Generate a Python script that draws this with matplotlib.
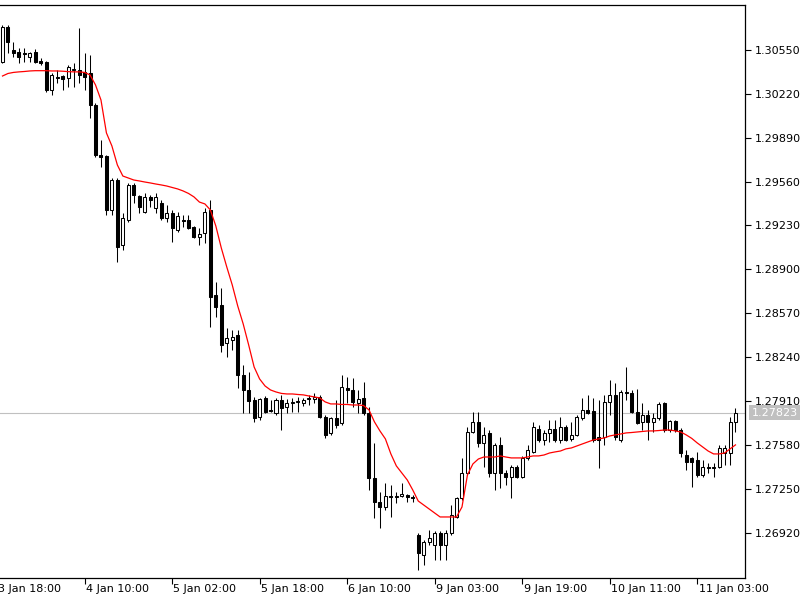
import matplotlib
matplotlib.use("Agg")
import matplotlib.pyplot as plt
import matplotlib.transforms as mtransforms
import numpy as np

opens = [1.30460, 1.30723, 1.30550, 1.30535, 1.30527, 1.30497, 1.30535, 1.30467, 1.30460, 1.30249,
         1.30347, 1.30354, 1.30339, 1.30400, 1.30400, 1.30385, 1.30377, 1.30136, 1.29760, 1.29753,
         1.29347, 1.29572, 1.29084, 1.29272, 1.29535, 1.29452, 1.29332, 1.29445, 1.29362, 1.29399,
         1.29287, 1.29324, 1.29196, 1.29272, 1.29272, 1.29219, 1.29144, 1.29174, 1.29347, 1.28708,
         1.28632, 1.28347, 1.28369, 1.28407, 1.28106, 1.27993, 1.27918, 1.27790, 1.27933, 1.27843,
         1.27820, 1.27918, 1.27865, 1.27895, 1.27903, 1.27895, 1.27926, 1.27926, 1.27941, 1.27790,
         1.27670, 1.27783, 1.27745, 1.28008, 1.27993, 1.27895, 1.27933, 1.27820, 1.27331, 1.27151,
         1.27113, 1.27196, 1.27189, 1.27196, 1.27204, 1.27189, 1.26903, 1.26752, 1.26850, 1.26828,
         1.26918, 1.26828, 1.26918, 1.27038, 1.27181, 1.27369, 1.27677, 1.27753, 1.27595, 1.27670,
         1.27369, 1.27580, 1.27369, 1.27339, 1.27414, 1.27339, 1.27482, 1.27527, 1.27700, 1.27617,
         1.27670, 1.27700, 1.27617, 1.27715, 1.27625, 1.27655, 1.27783, 1.27843, 1.27835, 1.27640,
         1.27640, 1.27903, 1.27956, 1.27617, 1.27978, 1.27971, 1.27828, 1.27753, 1.27805, 1.27753,
         1.27783, 1.27895, 1.27692, 1.27760, 1.27692, 1.27504, 1.27482, 1.27467, 1.27354, 1.27414,
         1.27407, 1.27414, 1.27519, 1.27519, 1.27753]

highs = [1.30738, 1.30738, 1.30610, 1.30565, 1.30565, 1.30535, 1.30558, 1.30490, 1.30467, 1.30377,
         1.30400, 1.30362, 1.30437, 1.30452, 1.30715, 1.30527, 1.30512, 1.30151, 1.29873, 1.29760,
         1.29587, 1.29587, 1.29324, 1.29550, 1.29550, 1.29460, 1.29475, 1.29460, 1.29475, 1.29422,
         1.29384, 1.29347, 1.29332, 1.29309, 1.29309, 1.29226, 1.29211, 1.29362, 1.29422, 1.28805,
         1.28760, 1.28459, 1.28444, 1.28444, 1.28181, 1.28129, 1.27941, 1.27933, 1.27948, 1.27918,
         1.27933, 1.27956, 1.27926, 1.27933, 1.27941, 1.27933, 1.27956, 1.27971, 1.27956, 1.27805,
         1.27790, 1.27918, 1.28106, 1.28091, 1.28083, 1.27993, 1.28053, 1.27865, 1.27595, 1.27226,
         1.27294, 1.27279, 1.27226, 1.27294, 1.27211, 1.27204, 1.26918, 1.26865, 1.26940, 1.26933,
         1.26933, 1.26940, 1.27128, 1.27189, 1.27482, 1.27715, 1.27828, 1.27828, 1.27715, 1.27692,
         1.27595, 1.27640, 1.27392, 1.27429, 1.27429, 1.27497, 1.27580, 1.27753, 1.27730, 1.27692,
         1.27768, 1.27768, 1.27790, 1.27730, 1.27753, 1.27805, 1.27933, 1.27956, 1.27933, 1.27918,
         1.27956, 1.28068, 1.28046, 1.27993, 1.28166, 1.27993, 1.28001, 1.27895, 1.27843, 1.27820,
         1.27903, 1.27903, 1.27768, 1.27768, 1.27707, 1.27542, 1.27489, 1.27527, 1.27467, 1.27444,
         1.27444, 1.27580, 1.27580, 1.27790, 1.27858]

lows = [1.30452, 1.30527, 1.30497, 1.30452, 1.30460, 1.30460, 1.30452, 1.30437, 1.30234, 1.30212,
        1.30302, 1.30249, 1.30272, 1.30272, 1.30302, 1.30249, 1.30039, 1.29745, 1.29670, 1.29309,
        1.29309, 1.28956, 1.29046, 1.29257, 1.29399, 1.29324, 1.29324, 1.29369, 1.29324, 1.29272,
        1.29257, 1.29106, 1.29181, 1.29219, 1.29204, 1.29136, 1.29084, 1.29099, 1.28467, 1.28542,
        1.28279, 1.28241, 1.28294, 1.28008, 1.27820, 1.27820, 1.27753, 1.27768, 1.27820, 1.27828,
        1.27805, 1.27692, 1.27820, 1.27828, 1.27828, 1.27873, 1.27880, 1.27895, 1.27783, 1.27632,
        1.27655, 1.27707, 1.27730, 1.27895, 1.27865, 1.27820, 1.27805, 1.27241, 1.27031, 1.26955,
        1.27091, 1.27038, 1.27143, 1.27189, 1.27151, 1.27151, 1.26640, 1.26677, 1.26828, 1.26715,
        1.26715, 1.26715, 1.26903, 1.27031, 1.27166, 1.27354, 1.27670, 1.27565, 1.27414, 1.27339,
        1.27241, 1.27256, 1.27279, 1.27181, 1.27331, 1.27331, 1.27467, 1.27519, 1.27602, 1.27580,
        1.27602, 1.27602, 1.27595, 1.27610, 1.27610, 1.27647, 1.27768, 1.27813, 1.27602, 1.27407,
        1.27580, 1.27805, 1.27617, 1.27602, 1.27918, 1.27820, 1.27738, 1.27692, 1.27617, 1.27677,
        1.27768, 1.27677, 1.27677, 1.27677, 1.27489, 1.27392, 1.27264, 1.27339, 1.27339, 1.27369,
        1.27339, 1.27407, 1.27429, 1.27429, 1.27677]

closes = [1.30723, 1.30610, 1.30527, 1.30497, 1.30520, 1.30527, 1.30460, 1.30452, 1.30249, 1.30362,
          1.30339, 1.30332, 1.30422, 1.30407, 1.30362, 1.30347, 1.30136, 1.29760, 1.29745, 1.29347,
          1.29572, 1.29069, 1.29287, 1.29535, 1.29460, 1.29369, 1.29445, 1.29422, 1.29445, 1.29287,
          1.29324, 1.29211, 1.29302, 1.29264, 1.29211, 1.29144, 1.29166, 1.29332, 1.28693, 1.28617,
          1.28332, 1.28384, 1.28392, 1.28106, 1.27993, 1.27910, 1.27783, 1.27926, 1.27828, 1.27835,
          1.27918, 1.27858, 1.27895, 1.27903, 1.27910, 1.27918, 1.27933, 1.27941, 1.27790, 1.27655,
          1.27783, 1.27730, 1.28016, 1.27993, 1.27903, 1.27926, 1.27820, 1.27331, 1.27151, 1.27113,
          1.27196, 1.27189, 1.27196, 1.27211, 1.27189, 1.27181, 1.26767, 1.26850, 1.26880, 1.26918,
          1.26828, 1.26918, 1.27053, 1.27181, 1.27369, 1.27677, 1.27753, 1.27595, 1.27655, 1.27369,
          1.27580, 1.27369, 1.27339, 1.27414, 1.27339, 1.27482, 1.27542, 1.27715, 1.27617, 1.27670,
          1.27700, 1.27617, 1.27715, 1.27617, 1.27655, 1.27790, 1.27843, 1.27820, 1.27617, 1.27617,
          1.27903, 1.27956, 1.27640, 1.27978, 1.27971, 1.27828, 1.27745, 1.27805, 1.27753, 1.27783,
          1.27888, 1.27692, 1.27760, 1.27692, 1.27519, 1.27452, 1.27452, 1.27354, 1.27414, 1.27407,
          1.27414, 1.27557, 1.27557, 1.27753, 1.27823]

ma_values = [1.30354, 1.30373, 1.30381, 1.30385, 1.30388, 1.30392, 1.30394, 1.30394, 1.30394, 1.30392,
             1.30392, 1.30390, 1.30387, 1.30385, 1.30385, 1.30381, 1.30362, 1.30287, 1.30174, 1.29926,
             1.29828, 1.29685, 1.29602, 1.29587, 1.29572, 1.29565, 1.29557, 1.29550, 1.29542, 1.29535,
             1.29527, 1.29516, 1.29505, 1.29490, 1.29471, 1.29445, 1.29406, 1.29392, 1.29347, 1.29226,
             1.29061, 1.28918, 1.28783, 1.28625, 1.28490, 1.28332, 1.28166, 1.28076, 1.28023, 1.27993,
             1.27978, 1.27967, 1.27963, 1.27963, 1.27959, 1.27956, 1.27948, 1.27941, 1.27933, 1.27903,
             1.27888, 1.27888, 1.27884, 1.27884, 1.27880, 1.27880, 1.27876, 1.27843, 1.27753, 1.27685,
             1.27625, 1.27512, 1.27422, 1.27369, 1.27316, 1.27241, 1.27158, 1.27128, 1.27098, 1.27068,
             1.27038, 1.27038, 1.27038, 1.27038, 1.27113, 1.27354, 1.27437, 1.27474, 1.27489, 1.27489,
             1.27489, 1.27497, 1.27489, 1.27482, 1.27482, 1.27482, 1.27489, 1.27497, 1.27497, 1.27504,
             1.27519, 1.27527, 1.27534, 1.27550, 1.27557, 1.27572, 1.27587, 1.27602, 1.27617, 1.27625,
             1.27632, 1.27647, 1.27655, 1.27662, 1.27670, 1.27673, 1.27677, 1.27681, 1.27685, 1.27685,
             1.27688, 1.27692, 1.27692, 1.27685, 1.27677, 1.27655, 1.27629, 1.27595, 1.27565, 1.27534,
             1.27512, 1.27512, 1.27519, 1.27550, 1.27580]

price_ticks = [1.26920, 1.27250, 1.27580, 1.27910, 1.28240, 1.28570,
               1.28900, 1.29230, 1.29560, 1.29890, 1.30220, 1.30550]
time_tick_index = [-1, 15, 31, 47, 63, 79, 95, 111, 127]
time_tick_labels = ["3 Jan 18:00", "4 Jan 10:00", "5 Jan 02:00", "5 Jan 18:00",
                    "6 Jan 10:00", "9 Jan 03:00", "9 Jan 19:00", "10 Jan 11:00",
                    "11 Jan 03:00"]
current_price = 1.27823

plt.rcParams['font.family'] = ['DejaVu Sans']

fig = plt.figure(figsize=(8, 6), dpi=100)
fig.patch.set_facecolor('white')
ax = fig.add_axes([0.0, 22 / 600, 745 / 800, 573 / 600])
ax.set_facecolor('white')

o = np.array(opens)
h = np.array(highs)
l = np.array(lows)
c = np.array(closes)
x = np.arange(len(o))

lw = 0.75
ax.axhline(current_price, color='#c0c0c0', lw=0.8, zorder=0)
ax.vlines(x, l, h, color='black', linewidth=lw, zorder=1)
bottoms = np.minimum(o, c)
heights = np.maximum(np.abs(c - o), 0.00001)
colors = np.where(c >= o, 'white', 'black')
ax.bar(x, heights, width=0.55, bottom=bottoms, color=colors, edgecolor='black',
       linewidth=lw, zorder=2)
ax.plot(x, ma_values, color='#ff0000', lw=0.9, zorder=3)

ax.set_xlim(-2.5 / 5.47, 742.5 / 5.47)
ax.set_ylim(1.26579, 1.30888)

# spines
ax.spines['left'].set_visible(False)
for s in ['top', 'right', 'bottom']:
    ax.spines[s].set_color('black')
    ax.spines[s].set_linewidth(0.9)

# y axis on right
ax.yaxis.tick_right()
ax.set_yticks(price_ticks)
ax.set_yticklabels([f"{v:.5f}" for v in price_ticks])
ax.tick_params(axis='y', direction='out', length=4, width=0.8, labelsize=8, pad=3)

# x axis ticks
ax.set_xticks(time_tick_index[1:])
ax.set_xticklabels([''] * (len(time_tick_index) - 1))
ax.tick_params(axis='x', direction='out', length=4, width=0.8)
xtrans = ax.get_xaxis_transform()
for idx, lab in zip(time_tick_index, time_tick_labels):
    ax.annotate(lab, xy=(idx, 0), xycoords=xtrans, xytext=(1, -4),
                textcoords='offset points', ha='left', va='top', fontsize=8,
                annotation_clip=False)

# current price label
btrans = mtransforms.blended_transform_factory(ax.transAxes, ax.transData)
ax.annotate(f"{current_price:.5f}", xy=(1, current_price), xycoords=btrans,
            xytext=(5, 0), textcoords='offset points', ha='left', va='center',
            fontsize=8, color='white', annotation_clip=False,
            bbox=dict(boxstyle='square,pad=0.25', facecolor='#c0c0c0', edgecolor='none'))

fig.savefig('out.png', dpi=100, facecolor='white')
